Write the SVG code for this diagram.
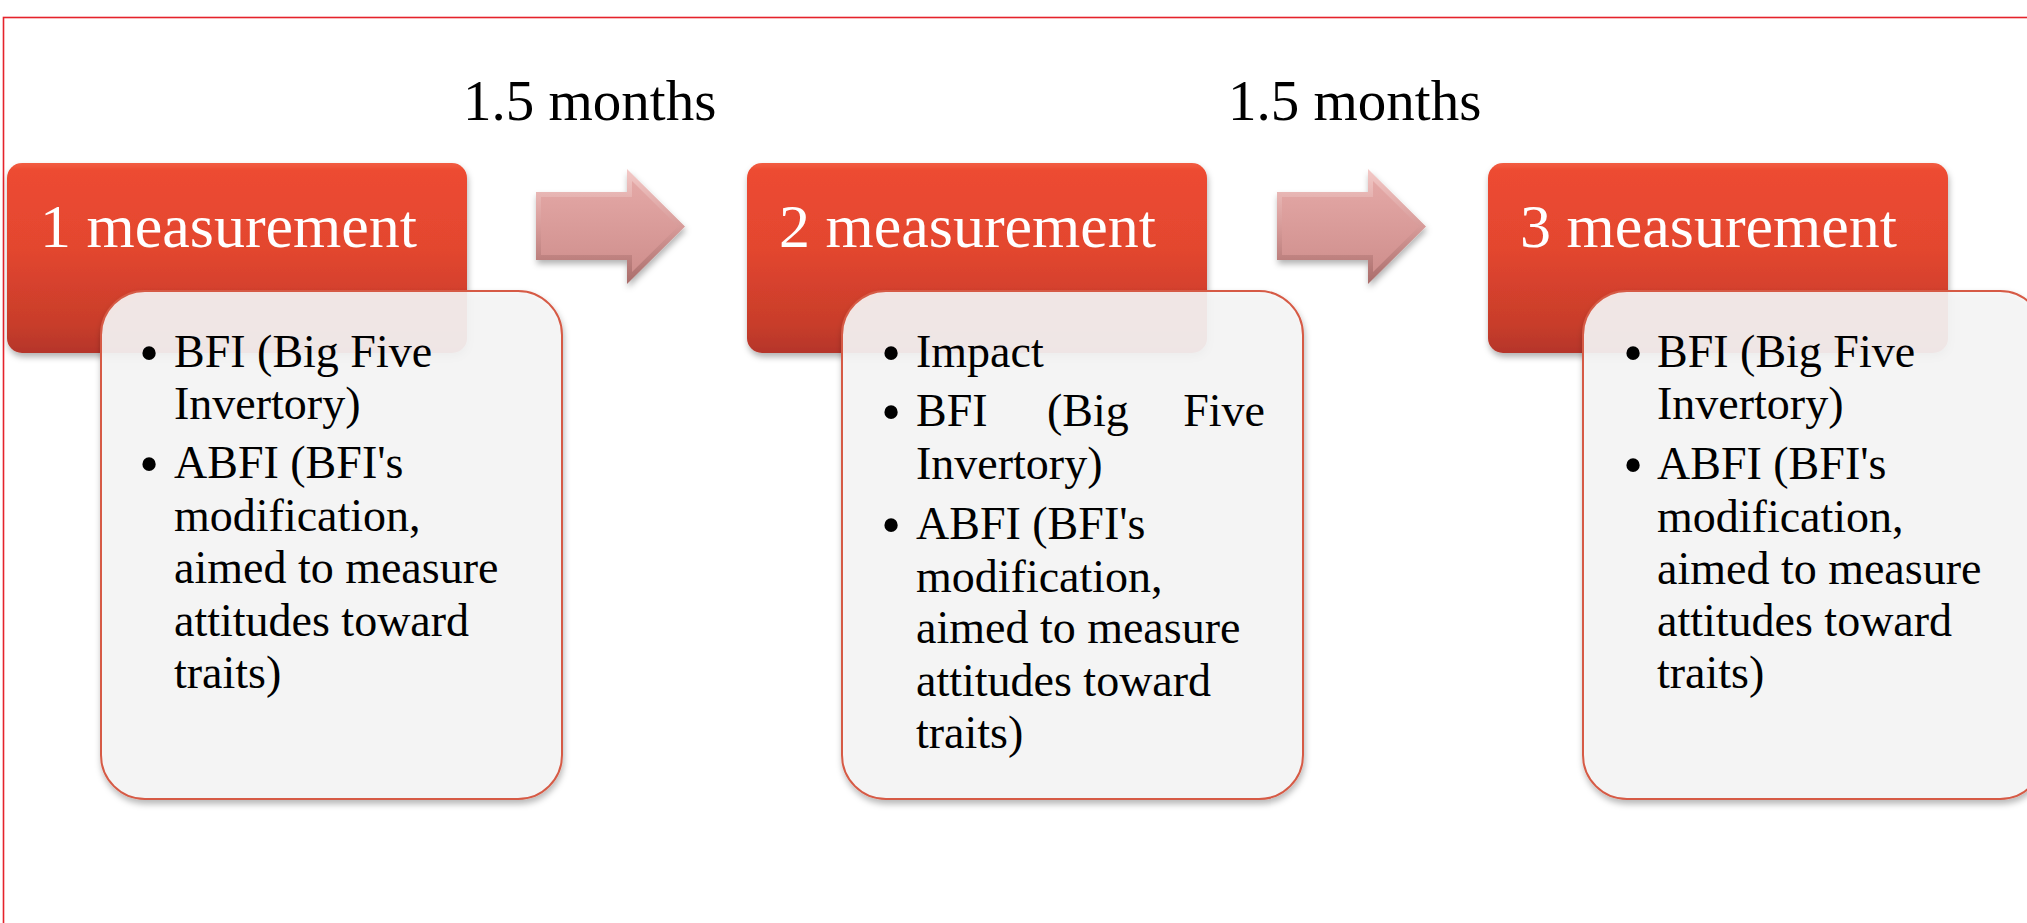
<svg xmlns="http://www.w3.org/2000/svg" width="2027" height="923" viewBox="0 0 2027 923">
<defs>
<style>
.frame{fill:none;stroke:#e5232b;stroke-width:1.6}
.head{fill:url(#redGrad);filter:url(#shadow)}
.headTxt{font-family:"Liberation Serif","Times New Roman",serif;font-size:62px;fill:#ffffff}
.card{fill:#f6f6f6;fill-opacity:0.9;stroke:#d65a45;stroke-width:2;filter:url(#shadow)}
.body{font-family:"Liberation Serif","Times New Roman",serif;font-size:46px;fill:#000000}
.bul{font-family:"Liberation Serif","Times New Roman",serif;font-size:56px;fill:#000000;text-anchor:middle}
.lbl{font-family:"Liberation Serif","Times New Roman",serif;font-size:57px;fill:#000000}
.arrOuter{fill:url(#arrEdge);filter:url(#shadow)}
.arrInner{fill:url(#arrFill)}
</style>
<linearGradient id="redGrad" x1="0" y1="0" x2="0" y2="1">
<stop offset="0" stop-color="#f25d42"/>
<stop offset="0.04" stop-color="#ed4b31"/>
<stop offset="0.45" stop-color="#e3462f"/>
<stop offset="0.85" stop-color="#c83d2b"/>
<stop offset="1" stop-color="#b5352a"/>
</linearGradient>
<linearGradient id="arrEdge" x1="0" y1="0" x2="0" y2="1">
<stop offset="0" stop-color="#f3c9c7"/>
<stop offset="0.5" stop-color="#d79b99"/>
<stop offset="1" stop-color="#a96c6a"/>
</linearGradient>
<linearGradient id="arrFill" x1="0" y1="0" x2="0" y2="1">
<stop offset="0" stop-color="#e4a8a6"/>
<stop offset="1" stop-color="#cf8f8d"/>
</linearGradient>
<filter id="shadow" x="-10%" y="-10%" width="120%" height="125%">
<feDropShadow dx="1" dy="4" stdDeviation="3" flood-color="#000000" flood-opacity="0.3"/>
</filter>
</defs>

<rect class="frame" x="3.5" y="17.5" width="2100" height="1000"/>

<g id="connectors">
<g id="arrow1">
<polygon class="arrOuter" points="536,192 627,192 627,169 685,226.5 627,284 627,260 536,260"/>
<polygon class="arrInner" points="541,197 632,197 632,181 678,226.5 632,272 632,255 541,255"/>
</g>
<g id="arrow2">
<polygon class="arrOuter" points="1277,192 1368,192 1368,169 1426,226.5 1368,284 1368,260 1277,260"/>
<polygon class="arrInner" points="1282,197 1373,197 1373,181 1419,226.5 1373,272 1373,255 1282,255"/>
</g>
<text class="lbl" x="463" y="120">1.5 months</text>
<text class="lbl" x="1228" y="120">1.5 months</text>
</g>

<g id="step1">
<rect class="head" x="7" y="163" width="460" height="190" rx="15"/>
<text class="headTxt" x="40" y="247">1 measurement</text>
</g>
<g id="detail1">
<rect class="card" x="101" y="291" width="461" height="508" rx="44"/>
<text class="bul" x="149" y="372">•</text>
<text class="body" x="174" y="367">BFI (Big Five</text>
<text class="body" x="174" y="419">Invertory)</text>
<text class="bul" x="149" y="483">•</text>
<text class="body" x="174" y="478">ABFI (BFI's</text>
<text class="body" x="174" y="531">modification,</text>
<text class="body" x="174" y="583">aimed to measure</text>
<text class="body" x="174" y="636">attitudes toward</text>
<text class="body" x="174" y="688">traits)</text>
</g>

<g id="step2">
<rect class="head" x="747" y="163" width="460" height="190" rx="15"/>
<text class="headTxt" x="779" y="247">2 measurement</text>
</g>
<g id="detail2">
<rect class="card" x="842" y="291" width="461" height="508" rx="44"/>
<text class="bul" x="891" y="372">•</text>
<text class="body" x="916" y="367">Impact</text>
<text class="bul" x="891" y="431">•</text>
<text class="body" x="916" y="426">BFI</text>
<text class="body" x="1047" y="426">(Big</text>
<text class="body" x="1265" y="426" text-anchor="end">Five</text>
<text class="body" x="916" y="479">Invertory)</text>
<text class="bul" x="891" y="544">•</text>
<text class="body" x="916" y="539">ABFI (BFI's</text>
<text class="body" x="916" y="592">modification,</text>
<text class="body" x="916" y="643">aimed to measure</text>
<text class="body" x="916" y="696">attitudes toward</text>
<text class="body" x="916" y="748">traits)</text>
</g>

<g id="step3">
<rect class="head" x="1488" y="163" width="460" height="190" rx="15"/>
<text class="headTxt" x="1520" y="247">3 measurement</text>
</g>
<g id="detail3">
<rect class="card" x="1583" y="291" width="461" height="508" rx="44"/>
<text class="bul" x="1633" y="372">•</text>
<text class="body" x="1657" y="367">BFI (Big Five</text>
<text class="body" x="1657" y="419">Invertory)</text>
<text class="bul" x="1633" y="484">•</text>
<text class="body" x="1657" y="479">ABFI (BFI's</text>
<text class="body" x="1657" y="532">modification,</text>
<text class="body" x="1657" y="584">aimed to measure</text>
<text class="body" x="1657" y="636">attitudes toward</text>
<text class="body" x="1657" y="688">traits)</text>
</g>
</svg>
